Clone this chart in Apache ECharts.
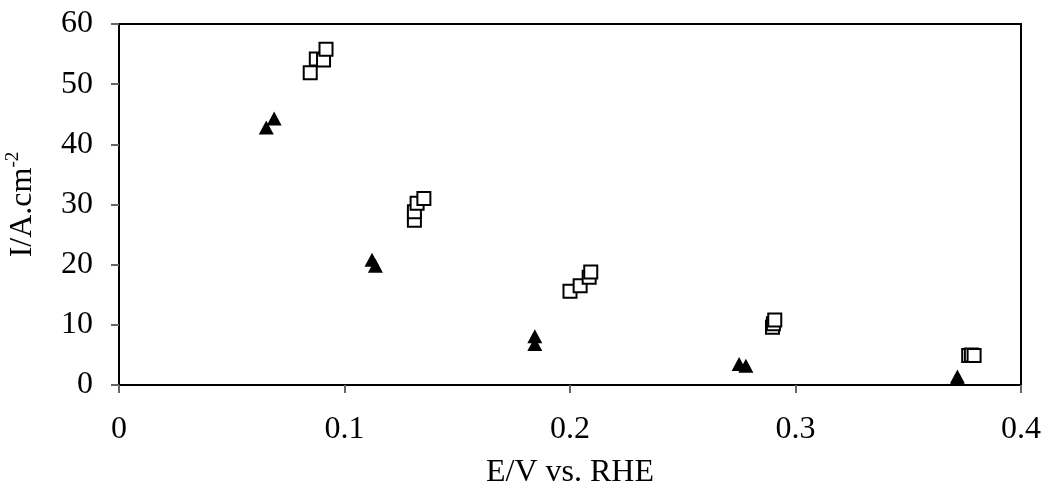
<!DOCTYPE html>
<html>
<head>
<meta charset="utf-8">
<script src="https://cdn.jsdelivr.net/npm/echarts@6/dist/echarts.min.js"></script>
<style>
html,body{margin:0;padding:0;background:#fff;}
#chart{width:1043px;height:497px;}
</style>
</head>
<body>
<div id="chart"></div>
<script>
// Hollow squares series
const squaresE = [0.0848, 0.0875, 0.0907, 0.0918,
                  0.1310, 0.1310, 0.1322, 0.1352,
                  0.2000, 0.2045, 0.2085, 0.2092,
                  0.2898, 0.2902, 0.2908,
                  0.3768, 0.3780, 0.3792];
const squaresI = [51.9, 54.2, 54.0, 55.8,
                  27.4, 28.8, 30.2, 31.0,
                  15.6, 16.5, 17.9, 18.8,
                  9.6, 10.2, 10.8,
                  4.9, 5.0, 4.9];
// Filled triangles series
const trianglesE = [0.0653, 0.0688,
                    0.1122, 0.1137,
                    0.1844, 0.1844,
                    0.2750, 0.2780,
                    0.3718, 0.3718];
const trianglesI = [42.8, 44.3,
                    20.8, 19.8,
                    8.1, 6.8,
                    3.5, 3.2,
                    1.4, 1.1];
const xTicks = [0, 0.1, 0.2, 0.3, 0.4];
const yTicks = [0, 10, 20, 30, 40, 50, 60];
const xTitle = 'E/V vs. RHE';
const yTitleMain = 'I/A.cm';
const yTitleSup = '-2';

const zip = (a, b) => a.map((v, i) => [v, b[i]]);
const font = '"Liberation Serif", "Times New Roman", serif';
const fs = 32;

const chart = echarts.init(document.getElementById('chart'), null, {renderer: 'canvas'});
chart.setOption({
  animation: false,
  backgroundColor: '#fff',
  grid: {left: 119, right: 22, top: 24, bottom: 112, show: true,
         containLabel: false, outerBoundsMode: 'none',
         borderColor: '#000', borderWidth: 2, backgroundColor: 'transparent'},
  xAxis: {
    type: 'value', min: xTicks[0], max: xTicks[xTicks.length - 1], interval: 0.1,
    axisLine: {show: true, lineStyle: {color: '#000', width: 2}},
    axisTick: {show: true, inside: false, length: 8, lineStyle: {color: '#666', width: 2}},
    splitLine: {show: false},
    axisLabel: {fontFamily: font, fontSize: fs, color: '#000', margin: 29,
                formatter: v => String(Math.round(v * 10) / 10)},
    name: xTitle, nameLocation: 'middle', nameGap: 72,
    nameTextStyle: {fontFamily: font, fontSize: fs, color: '#000'}
  },
  yAxis: {
    type: 'value', min: yTicks[0], max: yTicks[yTicks.length - 1], interval: 10,
    axisLine: {show: true, lineStyle: {color: '#000', width: 2}},
    axisTick: {show: true, inside: false, length: 8, lineStyle: {color: '#666', width: 2}},
    splitLine: {show: false},
    axisLabel: {fontFamily: font, fontSize: fs, color: '#000', margin: 26},
    name: '{a|' + yTitleMain + '}{b|' + yTitleSup + '}',
    nameLocation: 'middle', nameGap: 78, nameRotate: 90,
    nameTextStyle: {fontFamily: font, fontSize: fs, color: '#000',
      rich: {
        a: {fontFamily: font, fontSize: fs, color: '#000'},
        b: {fontFamily: font, fontSize: 19, color: '#000', padding: [0, 0, 18, 0]}
      }}
  },
  series: [
    {type: 'scatter', name: 'squares', data: zip(squaresE, squaresI),
     symbol: 'rect', symbolSize: 13,
     itemStyle: {color: '#fff', borderColor: '#000', borderWidth: 2, opacity: 1}},
    {type: 'scatter', name: 'triangles', data: zip(trianglesE, trianglesI),
     symbol: 'triangle', symbolSize: [15, 14],
     itemStyle: {color: '#000', opacity: 1}}
  ]
});
</script>
</body>
</html>
